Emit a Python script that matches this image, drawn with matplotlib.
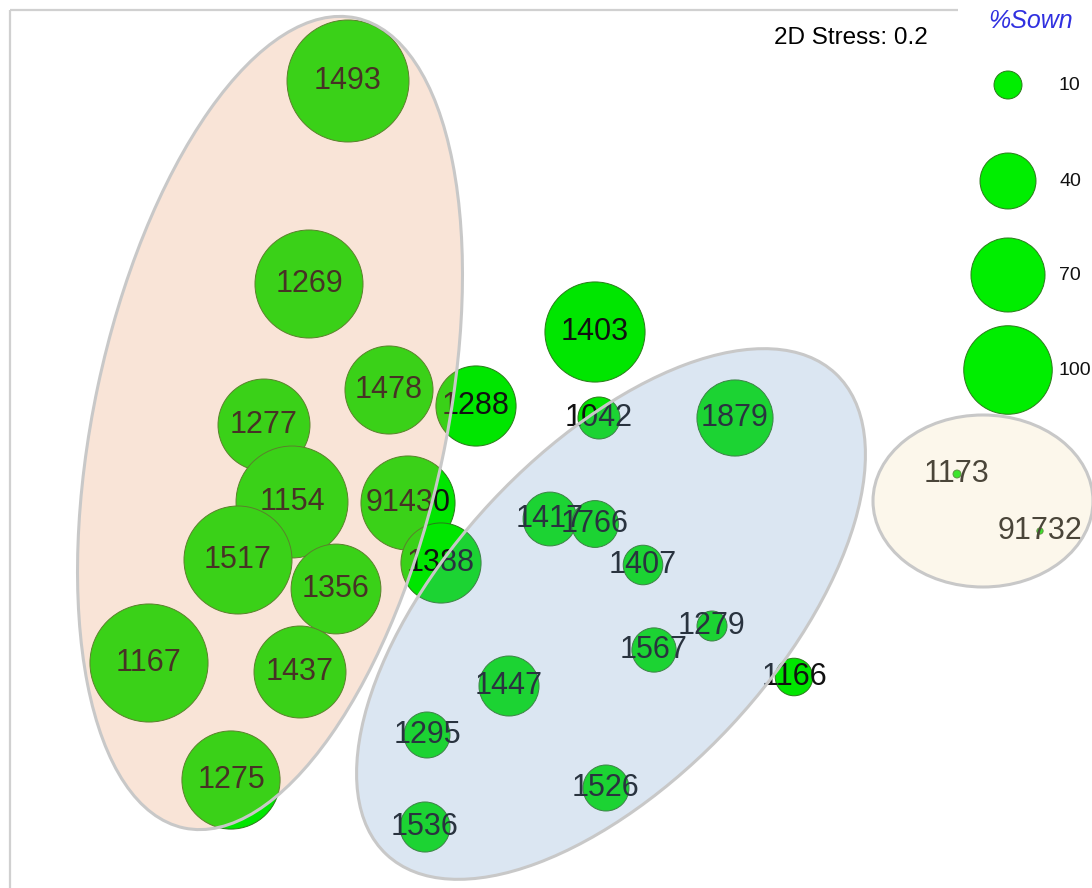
import matplotlib
matplotlib.use("Agg")
import matplotlib.pyplot as plt
from matplotlib.patches import Ellipse, Rectangle
import numpy as np

plt.rcParams['font.family'] = ['Liberation Sans', 'DejaVu Sans']

# MDS ordination (plot units), sample ids and %Sown
sites = ["1493", "1269", "1478", "1288", "1403", "1042", "1879", "1277",
         "1154", "91430", "1517", "1356", "1388", "1417", "1766", "1407",
         "1167", "1437", "1279", "1567", "1447", "1166", "1295", "1275",
         "1526", "1536", "1173", "91732"]
mds_x = [348, 309, 389, 476, 595, 599, 735, 264,
         292, 408, 238, 336, 441, 550, 595, 643,
         149, 300, 712, 654, 509, 794, 427, 231,
         606, 425, 957, 1040]
mds_y = [81, 284, 390, 406, 332, 418, 418, 425,
         502, 503, 560, 589, 563, 519, 524, 565,
         663, 672, 626, 650, 686, 677, 735, 780,
         788, 827, 474, 531]
sown = [190, 149, 99, 82, 128, 22.5, 74, 108,
        160, 113, 149, 103, 82, 37, 28, 20,
        178, 108, 11.5, 25, 46, 18, 27, 123,
        27, 32, 0.8, 0.5]

legend_vals = [10, 40, 70, 100]
stress = 0.2

# groups: (centre x, centre y, width, height, angle, face colour)
groups = [
    (270, 423, 828, 352, -78, (0.92, 0.59, 0.39)),
    (611, 614, 658, 328, -47, (0.45, 0.61, 0.80)),
    (983, 501, 220, 172, 0, (0.97, 0.89, 0.70)),
]

px = 8.85  # diameter in px per sqrt(%Sown)
def size(v):
    d = px * np.sqrt(np.asarray(v, dtype=float)) * 72 / 100.
    return d ** 2

fig = plt.figure(figsize=(10.92, 8.88), dpi=100)
ax = fig.add_axes([0, 0, 1, 1])
ax.set_xlim(0, 1092)
ax.set_ylim(888, 0)
ax.axis("off")

ax.add_patch(Rectangle((10, 10), 1300, 1000, fill=False, ec="#d0d0d0", lw=1.6, zorder=0))

ax.scatter(mds_x, mds_y, s=size(sown), c="#00e600", edgecolors="#2a7a1a",
           linewidths=0.7, zorder=2)
for lab, x, y in zip(sites, mds_x, mds_y):
    ax.text(x, y, lab, ha="center", va="center", fontsize=22, color="#111111", zorder=3)

for cx, cy, w, h, ang, col in groups:
    ax.add_patch(Ellipse((cx, cy), w, h, angle=ang, fc=col + (0.25,),
                         ec="#c8c8c8", lw=2.2, zorder=4))

ax.text(851, 38, "2D Stress: %s" % stress, ha="center", va="center", fontsize=17.5,
        color="black", zorder=5)

# bubble legend
ax.add_patch(Rectangle((958, 0), 140, 416, fc="white", ec="none", zorder=1))
ax.text(1031, 21, "%Sown", ha="center", va="center", fontsize=18, style="italic",
        color="#3030e0", zorder=5)
leg_y = [85, 181, 275, 370]
ax.scatter([1008] * 4, leg_y, s=size(legend_vals), c="#00ee00", edgecolors="#2a7a1a",
           linewidths=0.7, zorder=2)
for v, y in zip(legend_vals, leg_y):
    ax.text(1059, y, str(v), ha="left", va="center", fontsize=14, color="#111111", zorder=5)

fig.savefig("out.png", dpi=100)
